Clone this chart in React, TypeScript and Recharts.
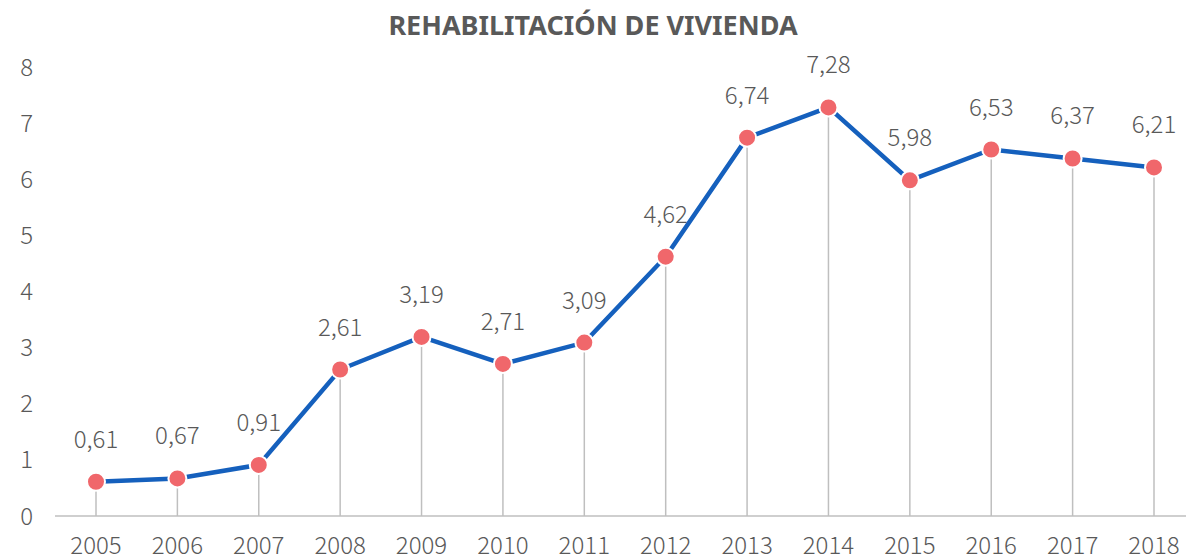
import React from "react";
import { LineChart, Line, XAxis, YAxis, LabelList, ErrorBar } from "recharts";

const years = ["2005", "2006", "2007", "2008", "2009", "2010", "2011", "2012", "2013", "2014", "2015", "2016", "2017", "2018"];
const values = [0.61, 0.67, 0.91, 2.61, 3.19, 2.71, 3.09, 4.62, 6.74, 7.28, 5.98, 6.53, 6.37, 6.21];
const yTicks = [0, 1, 2, 3, 4, 5, 6, 7, 8];

const data = years.map((year, i) => ({
  year,
  value: values[i],
  drop: [values[i], 0],
}));

const numFont = "'Noto Sans CJK JP', 'Noto Sans', sans-serif";
const titleFont = "'Noto Sans', sans-serif";
const grey = "#595959";
const numStyle = { fontSize: 24, fill: grey, fontFamily: numFont, fontWeight: 300 };

export default function App() {
  return (
    <div style={{ position: "absolute", left: 0, top: 0, width: 1186, height: 560, background: "#fff" }}>
      <div
        style={{
          position: "absolute",
          top: 6,
          width: "100%",
          textAlign: "center",
          fontSize: 27,
          fontWeight: 700,
          color: grey,
          fontFamily: titleFont,
        }}
      >
        REHABILITACIÓN DE VIVIENDA
      </div>
      <LineChart width={1186} height={560} data={data} margin={{ top: 67, right: 0, left: 0, bottom: 0 }}>
        <XAxis
          dataKey="year"
          padding={{ left: 41, right: 32 }}
          axisLine={{ stroke: "#BFBFBF", strokeWidth: 1.5 }}
          tickLine={false}
          tickMargin={15}
          height={44}
          tick={numStyle}
        />
        <YAxis
          domain={[0, 8]}
          ticks={yTicks}
          width={55}
          axisLine={false}
          tickLine={false}
          tickMargin={16}
          tick={numStyle}
        />
        <Line
          dataKey="value"
          stroke="#1560BD"
          strokeWidth={4.5}
          isAnimationActive={false}
          dot={{ r: 9, fill: "#F0676B", stroke: "#fff", strokeWidth: 2, fillOpacity: 1 }}
        >
          <ErrorBar dataKey="drop" direction="y" width={0} stroke="#BFBFBF" strokeWidth={1.5} />
          <LabelList
            dataKey="value"
            position="top"
            offset={34}
            formatter={(v: any) => Number(v).toFixed(2).replace(".", ",")}
            style={numStyle}
          />
        </Line>
      </LineChart>
    </div>
  );
}
